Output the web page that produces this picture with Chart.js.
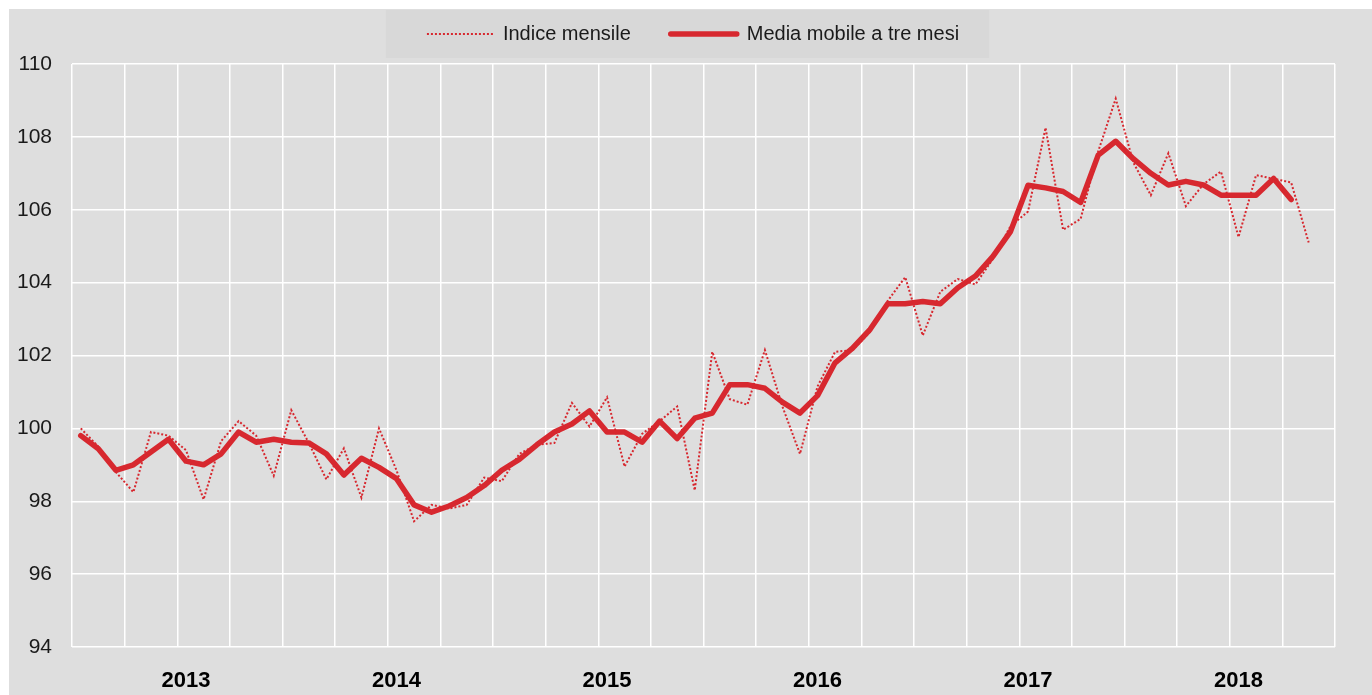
<!DOCTYPE html>
<html lang="it">
<head>
    <meta charset="UTF-8">
    <title>Indice mensile e media mobile a tre mesi</title>
    <script src="https://cdn.jsdelivr.net/npm/chart.js"></script>
    <style>
        body { margin: 0; background: #ffffff; }
        #box {
            position: absolute; left: 9px; top: 9px;
            width: 1363px; height: 686px;
            background: #dedede;
        }
    </style>
</head>
<body>
    <div id="box"><canvas id="grafico"></canvas></div>

    <script>
        // anni sull'asse x (gen 2013 - dic 2018, 72 mesi)
        const anni = ['2013', '2014', '2015', '2016', '2017', '2018'];
        const mesi = ['gen', 'feb', 'mar', 'apr', 'mag', 'giu', 'lug', 'ago', 'set', 'ott', 'nov', 'dic'];

        // indice mensile (gen 2013 - nov 2018)
        const indiceMensile = [
            100.0, 99.5, 98.8, 98.25, 99.9, 99.8, 99.4, 98.05, 99.65, 100.2, 99.8, 98.7,
            100.5, 99.6, 98.6, 99.45, 98.1, 100.0, 98.85, 97.45, 97.9, 97.8, 97.9, 98.65,
            98.55, 99.3, 99.55, 99.6, 100.7, 100.05, 100.85, 98.95, 99.85, 100.2, 100.6, 98.3,
            102.1, 100.8, 100.65, 102.15, 100.6, 99.3, 101.15, 102.1, 102.15, 102.65, 103.5, 104.15,
            102.55, 103.75, 104.1, 103.95, 104.65, 105.55, 105.95, 108.25, 105.45, 105.75, 107.6, 109.05,
            107.3, 106.4, 107.55, 106.1, 106.7, 107.05, 105.25, 106.95, 106.85, 106.75, 105.1
        ];

        // media mobile a tre mesi (gen 2013 - ott 2018)
        const mediaMobile = [
            99.8, 99.44, 98.85, 99.0, 99.35, 99.7, 99.1, 99.0, 99.3, 99.9, 99.62, 99.7,
            99.62, 99.6, 99.3, 98.72, 99.18, 98.93, 98.62, 97.9, 97.7, 97.87, 98.1, 98.43,
            98.85, 99.15, 99.55, 99.9, 100.12, 100.48, 99.9, 99.9, 99.62, 100.2, 99.72, 100.28,
            100.42, 101.2, 101.2, 101.1, 100.72, 100.42, 100.9, 101.8, 102.2, 102.72, 103.42, 103.42,
            103.48, 103.42, 103.86, 104.18, 104.72, 105.4, 106.67, 106.6, 106.5, 106.2, 107.5, 107.88,
            107.4, 107.0, 106.68, 106.78, 106.68, 106.4, 106.4, 106.4, 106.86, 106.28
        ];

        const etichette = [];
        anni.forEach(a => mesi.forEach(m => etichette.push(m + ' ' + a)));

        const rosso = '#d7282f';
        const carattere = "'Liberation Sans Narrow', 'Arial Narrow', 'Liberation Sans', Arial, sans-serif";

        // sfondo della legenda
        const sfondoLegenda = {
            id: 'sfondoLegenda',
            beforeDraw(chart) {
                const hb = chart.legend.legendHitBoxes;
                if (!hb || !hb.length) return;
                const ultimo = hb[hb.length - 1];
                const x0 = hb[0].left - 41;
                const x1 = ultimo.left + ultimo.width + 30;
                const ctx = chart.ctx;
                ctx.save();
                ctx.fillStyle = '#d8d8d8';
                ctx.fillRect(x0, hb[0].top - 14, x1 - x0, 48);
                ctx.restore();
            }
        };

        const ctx = document.getElementById('grafico').getContext('2d');
        new Chart(ctx, {
            type: 'line',
            data: {
                labels: etichette,
                datasets: [{
                    label: 'Indice mensile',
                    data: indiceMensile,
                    borderColor: rosso,
                    backgroundColor: rosso,
                    borderWidth: 2,
                    borderDash: [2, 2],
                    pointRadius: 0,
                    pointStyle: 'line',
                    tension: 0
                }, {
                    label: 'Media mobile a tre mesi',
                    data: mediaMobile,
                    borderColor: rosso,
                    backgroundColor: rosso,
                    borderWidth: 5.5,
                    borderCapStyle: 'round',
                    borderJoinStyle: 'round',
                    pointRadius: 0,
                    pointStyle: 'line',
                    tension: 0
                }]
            },
            options: {
                responsive: true,
                maintainAspectRatio: false,
                animation: false,
                layout: { padding: { top: -25, right: 0, bottom: 0, left: 5 } },
                plugins: {
                    legend: {
                        display: true,
                        labels: {
                            usePointStyle: true,
                            pointStyleWidth: 66,
                            padding: 40,
                            color: '#1a1a1a',
                            font: { family: carattere, size: 20 },
                            generateLabels: chart => Chart.defaults.plugins.legend.labels.generateLabels(chart).map(l => {
                                const ds = chart.data.datasets[l.datasetIndex];
                                l.lineDash = ds.borderDash || [];
                                l.lineWidth = ds.borderWidth;
                                l.lineCap = ds.borderCapStyle || 'butt';
                                return l;
                            })
                        }
                    },
                    tooltip: { enabled: false }
                },
                scales: {
                    x: {
                        type: 'category',
                        offset: true,
                        grid: {
                            offset: true,
                            drawTicks: false,
                            lineWidth: 1.5,
                            color: c => (c.index === undefined || c.index % 3 === 0) ? '#ffffff' : 'rgba(0,0,0,0)'
                        },
                        border: { display: false },
                        ticks: {
                            autoSkip: false,
                            maxRotation: 0,
                            padding: 21,
                            color: '#000000',
                            font: { family: "'Liberation Sans', Arial, sans-serif", size: 22, weight: 'bold' },
                            callback: (v, i) => i % 12 === 6 ? anni[Math.floor(i / 12)] : ''
                        },
                        afterFit: s => { s.height = 48; }
                    },
                    xSpazio: {
                        type: 'category',
                        position: 'top',
                        grid: { display: false },
                        border: { display: false },
                        ticks: { display: false },
                        afterFit: s => { s.height = 10; }
                    },
                    y: {
                        min: 94,
                        max: 110,
                        grid: { color: '#ffffff', lineWidth: 1.5, drawTicks: false },
                        border: { display: false },
                        ticks: {
                            stepSize: 2,
                            padding: 20,
                            color: '#1a1a1a',
                            font: { family: carattere, size: 21 }
                        },
                        afterFit: s => { s.width = 58; }
                    },
                    ySpazio: {
                        position: 'right',
                        min: 94,
                        max: 110,
                        grid: { display: false },
                        border: { display: false },
                        ticks: { display: false },
                        afterFit: s => { s.width = 37; }
                    }
                }
            },
            plugins: [sfondoLegenda]
        });
    </script>
</body>
</html>
